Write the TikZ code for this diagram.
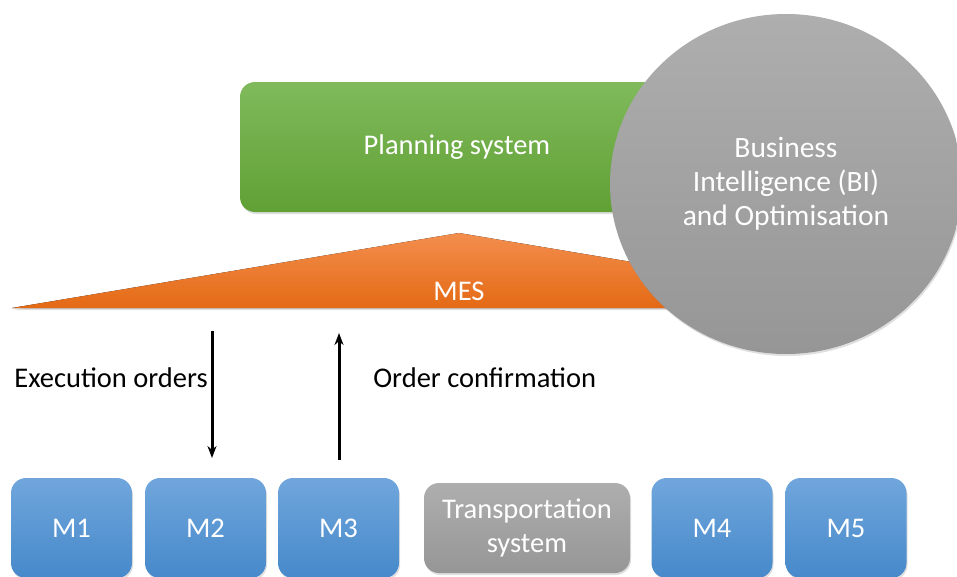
\documentclass[tikz,border=0pt]{standalone}
\usepackage{fontspec}
\setmainfont{Carlito}
\usepackage{tikz}
\usetikzlibrary{arrows.meta,shadows,shapes.geometric}

\definecolor{planTop}{RGB}{128,186,92}
\definecolor{planBot}{RGB}{96,160,52}
\definecolor{mesTop}{RGB}{243,142,78}
\definecolor{mesBot}{RGB}{228,106,20}
\definecolor{machTop}{RGB}{112,166,220}
\definecolor{machBot}{RGB}{70,137,202}
\definecolor{greyTop}{RGB}{174,174,174}
\definecolor{greyBot}{RGB}{150,150,150}

\begin{document}
\begin{tikzpicture}[x=1pt,y=-1pt,line width=.7pt,
    lbl/.style={font=\fontsize{28.5}{34}\selectfont},
    softshadow/.style={drop shadow={opacity=.25,shadow xshift=1pt,shadow yshift=-2pt}},
    machine/.style={lbl,rounded corners=15pt,minimum width=121pt,minimum height=100pt,
      top color=machTop,bottom color=machBot,text=white,softshadow},
    flow/.style={line width=3pt,-{Stealth[length=12pt,width=9pt]}}]
  \useasboundingbox (0,0) rectangle (957,576);

  % upper levels
  \node[lbl,rounded corners=15pt,minimum width=434pt,minimum height=130pt,
    top color=planTop,bottom color=planBot,text=white,softshadow] (plan) at (457,147) {Planning system};
  \fill[top color=mesTop,bottom color=mesBot,softshadow] (12,308) -- (459,233) -- (906,308) -- cycle;
  \node[lbl,text=white] (mes) at (459,291) {MES};
  \node[lbl,font=\fontsize{29.5}{34}\selectfont,ellipse,inner sep=0pt,minimum width=352pt,minimum height=340pt,align=center,
    top color=greyTop,bottom color=greyBot,text=white,softshadow] (bi) at (786,184)
    {Business\\Intelligence (BI)\\and Optimisation};

  % orders between MES and machines
  \coordinate (eoS) at (212,331); \coordinate (eoE) at (212,458);
  \coordinate (ocS) at (339,460); \coordinate (ocE) at (339,333);
  \draw[flow] (eoS) -- (eoE);
  \draw[flow] (ocS) -- (ocE);
  \node[lbl,anchor=west,inner sep=0pt] (eo) at (14,378) {Execution orders};
  \node[lbl,anchor=west,inner sep=0pt] (oc) at (373,378) {Order confirmation};

  % shop floor
  \node[machine] (m1) at (71.5,528) {M1};
  \node[machine] (m2) at (205.5,528) {M2};
  \node[machine] (m3) at (338.5,528) {M3};
  \node[lbl,rounded corners=15pt,minimum width=206pt,minimum height=90pt,align=center,
    top color=greyTop,bottom color=greyBot,text=white,softshadow] (trans) at (527,528) {Transportation\\system};
  \node[machine] (m4) at (712,528) {M4};
  \node[machine] (m5) at (846,528) {M5};
\end{tikzpicture}
\end{document}
